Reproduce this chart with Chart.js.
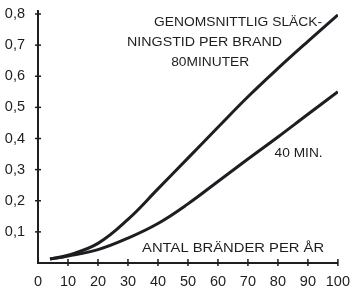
<!DOCTYPE html>
<html>
<head>
<meta charset="utf-8">
<script src="https://cdn.jsdelivr.net/npm/chart.js@4"></script>
<style>
  html, body { margin: 0; padding: 0; background: #fff; }
  #wrap { width: 352px; height: 289px; }
</style>
</head>
<body>
<div id="wrap"><canvas id="myChart" width="352" height="289"></canvas></div>
<script>
// antal bränder per år (x)
const antal = [4, 10, 20, 30, 40, 50, 60, 70, 80, 90, 100];
// genomsnittlig släckningstid 80 minuter
const min80 = [0.013, 0.025, 0.063, 0.140, 0.238, 0.337, 0.436, 0.534, 0.625, 0.712, 0.797];
// 40 minuter
const min40 = [0.013, 0.022, 0.043, 0.080, 0.127, 0.190, 0.262, 0.334, 0.405, 0.478, 0.550];
const xTicks = [0, 10, 20, 30, 40, 50, 60, 70, 80, 90, 100];
const yTicks = [0.1, 0.2, 0.3, 0.4, 0.5, 0.6, 0.7, 0.8];

const ink = '#1d1d22';

// texter i diagrammet (x/y i dataenheter, w = bredd i px)
const texter = [
  { t: 'GENOMSNITTLIG SLÄCK-', x: 38.7, y: 0.774, w: 168 },
  { t: 'NINGSTID PER BRAND', x: 29.7, y: 0.710, w: 155 },
  { t: '80MINUTER', x: 44.4, y: 0.646, w: 78 },
  { t: '40 MIN.', x: 78.9, y: 0.353, w: 48 },
  { t: 'ANTAL BRÄNDER PER ÅR', x: 34.7, y: 0.048, w: 182 }
];

function punkter(arr) {
  return antal.map(function(a, i) { return { x: a, y: arr[i] }; });
}

// små streck som korsar axlarna
const streckPlugin = {
  id: 'streck',
  afterDraw(chart) {
    const ctx = chart.ctx;
    const xs = chart.scales.x, ys = chart.scales.y;
    const y0 = ys.getPixelForValue(0), x0 = xs.getPixelForValue(0);
    ctx.save();
    ctx.strokeStyle = ink;
    ctx.lineWidth = 1.5;
    xTicks.slice(1).forEach(function(v) {
      const px = xs.getPixelForValue(v);
      ctx.beginPath(); ctx.moveTo(px, y0 - 4); ctx.lineTo(px, y0 + 3); ctx.stroke();
    });
    yTicks.forEach(function(v) {
      const py = ys.getPixelForValue(v);
      ctx.beginPath(); ctx.moveTo(x0 - 3, py); ctx.lineTo(x0 + 3, py); ctx.stroke();
    });
    // axeln går en bit ovanför 0,8
    ctx.lineWidth = 2;
    ctx.beginPath(); ctx.moveTo(x0, ys.getPixelForValue(0.8)); ctx.lineTo(x0, ys.getPixelForValue(0.8) - 4); ctx.stroke();
    ctx.restore();
  }
};

const textPlugin = {
  id: 'texter',
  afterDraw(chart) {
    const ctx = chart.ctx;
    const xs = chart.scales.x, ys = chart.scales.y;
    ctx.save();
    ctx.fillStyle = ink;
    ctx.font = '13.5px "Liberation Sans", Arial, sans-serif';
    ctx.textBaseline = 'middle';
    ctx.textAlign = 'left';
    texter.forEach(function(o) {
      const m = ctx.measureText(o.t).width;
      ctx.save();
      ctx.translate(xs.getPixelForValue(o.x), ys.getPixelForValue(o.y));
      ctx.scale(o.w / m, 1);
      ctx.fillText(o.t, 0, 0);
      ctx.restore();
    });
    ctx.restore();
  }
};

const chart = document.getElementById('myChart');
new Chart(chart, {
  type: 'line',
  data: {
    datasets: [
      { label: '80 minuter', data: punkter(min80), borderColor: ink, borderWidth: 3,
        pointRadius: 0, fill: false, tension: 0.4 },
      { label: '40 min', data: punkter(min40), borderColor: ink, borderWidth: 3,
        pointRadius: 0, fill: false, tension: 0.4 }
    ]
  },
  options: {
    responsive: false,
    animation: false,
    layout: { padding: { top: 14, right: 12, left: 0, bottom: 0 } },
    plugins: { legend: { display: false }, tooltip: { enabled: false } },
    scales: {
      x: {
        type: 'linear', min: 0, max: 100,
        afterFit: function(s) { s.height = 26; },
        afterBuildTicks: function(s) { s.ticks = xTicks.map(function(v) { return { value: v }; }); },
        grid: { display: false },
        border: { display: true, color: ink, width: 2 },
        ticks: { color: ink, padding: 2, maxRotation: 0, autoSkip: false,
                 font: { family: '"Liberation Sans", Arial, sans-serif', size: 14.5 } }
      },
      y: {
        min: 0, max: 0.8,
        afterFit: function(s) { s.width = 38; },
        afterBuildTicks: function(s) { s.ticks = [0].concat(yTicks).map(function(v) { return { value: v }; }); },
        grid: { display: false },
        border: { display: true, color: ink, width: 2 },
        ticks: { color: ink, padding: 5, autoSkip: false,
                 font: { family: '"Liberation Sans", Arial, sans-serif', size: 14.5 },
                 callback: function(v) { return v === 0 ? '' : v.toFixed(1).replace('.', ','); } }
      }
    }
  },
  plugins: [streckPlugin, textPlugin]
});
</script>
</body>
</html>
